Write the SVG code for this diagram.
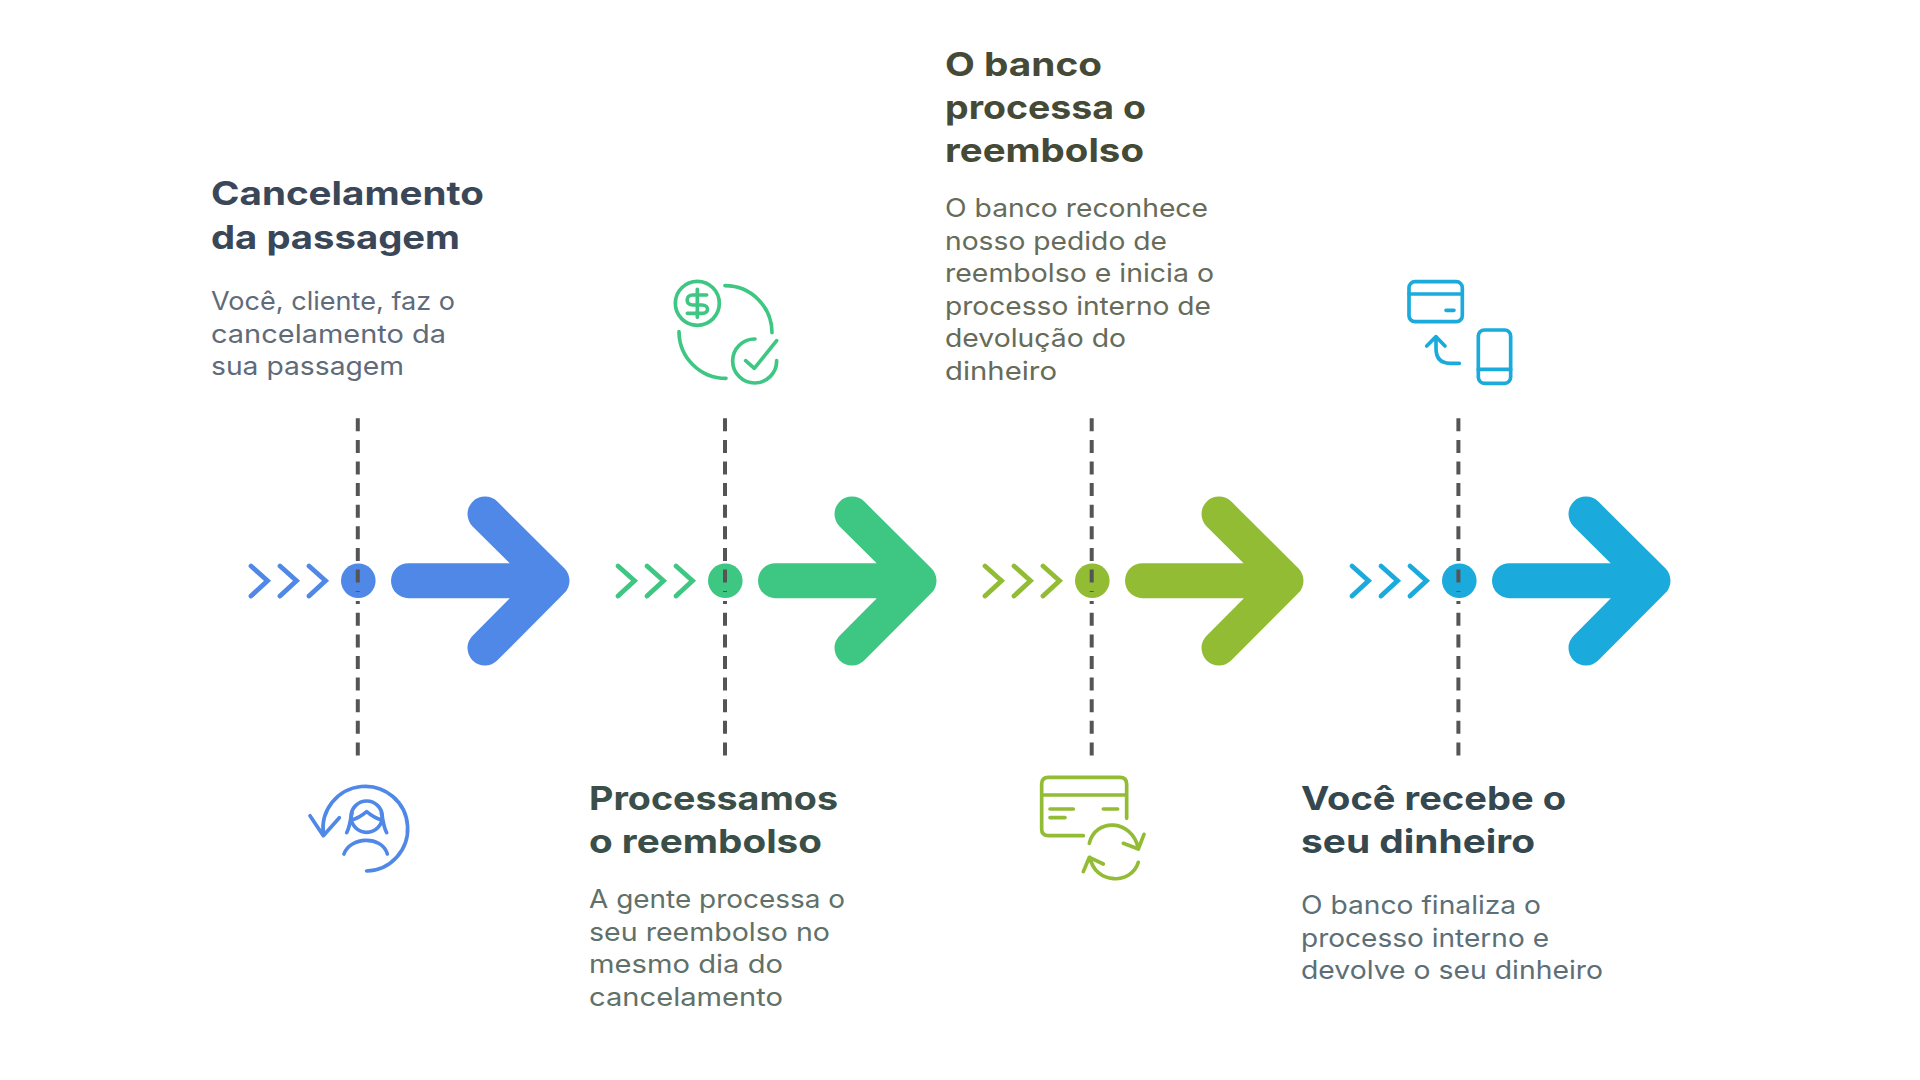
<svg xmlns="http://www.w3.org/2000/svg" width="1920" height="1080" viewBox="0 0 1920 1080">
<style>
text{font-family:"Inter","Noto Sans",sans-serif}
.t{font-size:33px;font-weight:700}
.b{font-size:25.500px;font-weight:400}
.t1{fill:#3a4759}.b1{fill:#5f6b7a}
.t2{fill:#3a4f48}.b2{fill:#5f7169}
.t3{fill:#454a37}.b3{fill:#666b5a}
.t4{fill:#35474f}.b4{fill:#5c6f77}
.ic{fill:none;stroke-width:11;stroke-linecap:round;stroke-linejoin:round}
.dash{fill:none;stroke:#555;stroke-width:4;stroke-dasharray:13 8.600}
.big{fill:none;stroke-width:35;stroke-linecap:round;stroke-linejoin:round}
.chev{fill:none;stroke-width:4.800;stroke-linecap:round;stroke-linejoin:miter}
.c1{stroke:#4f88e6;color:#4f88e6}.c2{stroke:#3ec683;color:#3ec683}.c3{stroke:#93bc35;color:#93bc35}.c4{stroke:#1aabdc;color:#1aabdc}
</style>
<defs>
<g id="arrow"><path class="big" d="M408.500 580.700H552M485 514L552 580.700L485 648"/></g>
<g id="chevrons"><path class="chev" d="M251 566L267.500 580.700L251 596M280 566L296.500 580.700L280 596M309 566L325.500 580.700L309 596"/></g>
</defs>
<g id="step1">
<use href="#chevrons" class="c1"/>
<circle cx="358.300" cy="580.700" r="17.300" fill="#4f88e6"/>
<use href="#arrow" class="c1"/>
<text class="t t1" x="211" y="205" textLength="273" lengthAdjust="spacingAndGlyphs">Cancelamento</text>
<text class="t t1" x="211" y="249" textLength="249" lengthAdjust="spacingAndGlyphs">da passagem</text>
<text class="b b1" x="211" y="310" textLength="244" lengthAdjust="spacingAndGlyphs">Você, cliente, faz o</text>
<text class="b b1" x="211" y="343" textLength="235" lengthAdjust="spacingAndGlyphs">cancelamento da</text>
<text class="b b1" x="211" y="375" textLength="193" lengthAdjust="spacingAndGlyphs">sua passagem</text>
<g class="ic c1" transform="translate(290 770) scale(.3333)">
<path d="M100 192A127 127 0 1 1 230 303"/>
<path d="M60 137L100 197L148 143"/>
<circle cx="230" cy="140" r="47"/>
<path d="M170 188C180 170 180 150 186 130M290 188C280 170 280 150 274 130M185 150C205 145 218 135 230 125C242 135 255 145 275 150"/>
<path d="M162 252C180 200 275 195 292 252"/>
</g>
</g>
<g id="step2">
<use href="#chevrons" class="c2" transform="translate(367 0)"/>
<circle cx="725.300" cy="580.700" r="17.300" fill="#3ec683"/>
<use href="#arrow" class="c2" transform="translate(367 0)"/>
<text class="t t2" x="589" y="810" textLength="249" lengthAdjust="spacingAndGlyphs">Processamos</text>
<text class="t t2" x="589" y="853" textLength="233" lengthAdjust="spacingAndGlyphs">o reembolso</text>
<text class="b b2" x="589" y="908" textLength="256" lengthAdjust="spacingAndGlyphs">A gente processa o</text>
<text class="b b2" x="589" y="941" textLength="241" lengthAdjust="spacingAndGlyphs">seu reembolso no</text>
<text class="b b2" x="589" y="973" textLength="194" lengthAdjust="spacingAndGlyphs">mesmo dia do</text>
<text class="b b2" x="589" y="1006" textLength="194" lengthAdjust="spacingAndGlyphs">cancelamento</text>
<g class="ic c2" transform="translate(660 270) scale(.3333)">
<circle cx="112" cy="100" r="66"/>
<path d="M112 58V142M140 75H98C76 75 76 105 98 105H126C148 105 148 130 126 130H82"/>
<path d="M195 47A141 141 0 0 1 336 188M57 185A141 141 0 0 0 198 325"/>
<path d="M285 207A66 66 0 1 0 350 272"/>
<path d="M257 272L283 295L350 212"/>
</g>
</g>
<g id="step3">
<use href="#chevrons" class="c3" transform="translate(734 0)"/>
<circle cx="1092.300" cy="580.700" r="17.300" fill="#93bc35"/>
<use href="#arrow" class="c3" transform="translate(734 0)"/>
<text class="t t3" x="945" y="76" textLength="157" lengthAdjust="spacingAndGlyphs">O banco</text>
<text class="t t3" x="945" y="118.500" textLength="201" lengthAdjust="spacingAndGlyphs">processa o</text>
<text class="t t3" x="945" y="162.300" textLength="199" lengthAdjust="spacingAndGlyphs">reembolso</text>
<text class="b b3" x="945" y="217" textLength="263" lengthAdjust="spacingAndGlyphs">O banco reconhece</text>
<text class="b b3" x="945" y="250" textLength="222" lengthAdjust="spacingAndGlyphs">nosso pedido de</text>
<text class="b b3" x="945" y="282" textLength="269" lengthAdjust="spacingAndGlyphs">reembolso e inicia o</text>
<text class="b b3" x="945" y="315" textLength="266" lengthAdjust="spacingAndGlyphs">processo interno de</text>
<text class="b b3" x="945" y="347" textLength="181" lengthAdjust="spacingAndGlyphs">devolução do</text>
<text class="b b3" x="945" y="380" textLength="112" lengthAdjust="spacingAndGlyphs">dinheiro</text>
<g class="ic c3" transform="translate(1030 770) scale(.3333)">
<path d="M160 197H55Q35 197 35 177V42Q35 22 55 22H270Q290 22 290 42V145M35 75H290"/>
<path d="M60 117H130M60 143H105M220 117H263"/>
<path d="M178 220C195 145 305 145 325 235M280 220L325 237L342 193"/>
<path d="M325 277C305 345 195 345 180 262M220 282L178 262L160 305"/>
</g>
</g>
<g id="step4">
<use href="#chevrons" class="c4" transform="translate(1101 0)"/>
<circle cx="1459.300" cy="580.700" r="17.300" fill="#1aabdc"/>
<use href="#arrow" class="c4" transform="translate(1101 0)"/>
<text class="t t4" x="1301" y="810" textLength="265" lengthAdjust="spacingAndGlyphs">Você recebe o</text>
<text class="t t4" x="1301" y="853" textLength="234" lengthAdjust="spacingAndGlyphs">seu dinheiro</text>
<text class="b b4" x="1301" y="914" textLength="240" lengthAdjust="spacingAndGlyphs">O banco finaliza o</text>
<text class="b b4" x="1301" y="947" textLength="248" lengthAdjust="spacingAndGlyphs">processo interno e</text>
<text class="b b4" x="1301" y="979" textLength="302" lengthAdjust="spacingAndGlyphs">devolve o seu dinheiro</text>
<g class="ic c4" transform="translate(1400 270) scale(.3333)">
<rect x="27" y="35" width="160" height="120" rx="18"/>
<path d="M27 72H187M138 121H162"/>
<rect x="235" y="180" width="97" height="160" rx="18"/>
<path d="M235 298H332"/>
<path d="M80 228L108 200L135 228M108 200V235Q108 280 150 280H178"/>
</g>
</g>
<g id="connectors">
<path class="dash" d="M357.800 418.300V592M357.800 601V604M357.800 612.800V756"/>
<path class="dash" d="M725 418.300V592M725 601V604M725 612.800V756"/>
<path class="dash" d="M1091.700 418.300V592M1091.700 601V604M1091.700 612.800V756"/>
<path class="dash" d="M1458.400 418.300V592M1458.400 601V604M1458.400 612.800V756"/>
</g>
</svg>
